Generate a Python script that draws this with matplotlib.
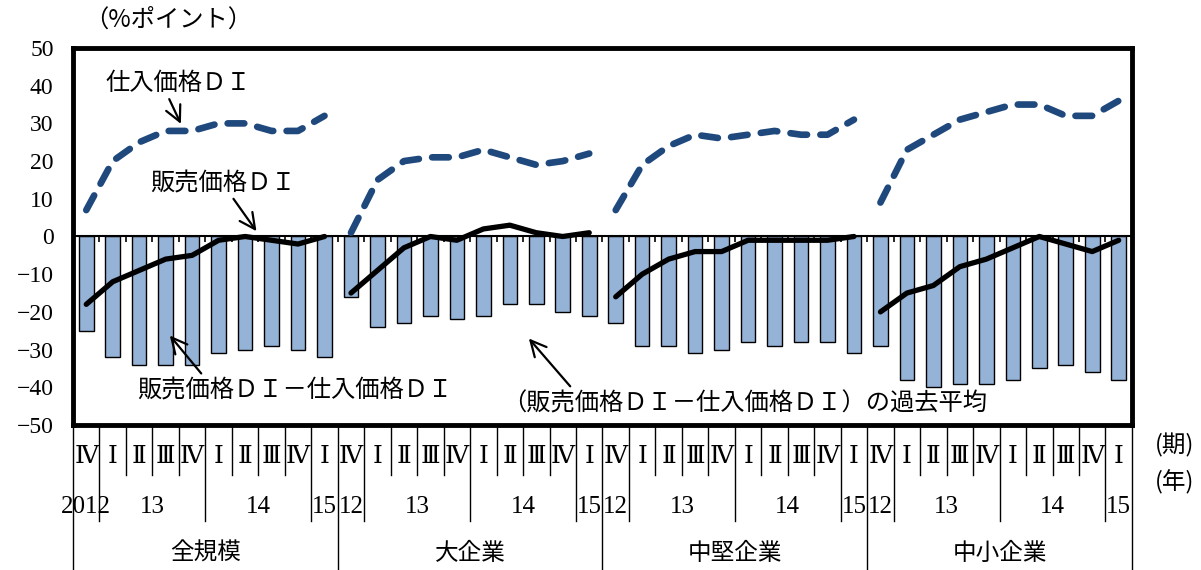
import matplotlib
matplotlib.use('Agg')
import matplotlib.pyplot as plt
from matplotlib.transforms import blended_transform_factory

plt.rcParams['font.family'] = ['Liberation Serif', 'DejaVu Serif', 'Noto Sans CJK JP']
JP = ['Noto Sans CJK JP', 'DejaVu Sans']

groups = ['全規模', '大企業', '中堅企業', '中小企業']
quarters = ['Ⅳ', 'Ⅰ', 'Ⅱ', 'Ⅲ', 'Ⅳ', 'Ⅰ', 'Ⅱ', 'Ⅲ', 'Ⅳ', 'Ⅰ']
year_labels = ['12', '13', '14', '15']
year_spans = [(0, 0), (1, 4), (5, 8), (9, 9)]

# 仕入価格DI (per group, 2012 IV - 2015 I)
purchase_di = [
    [7, 20, 25, 28, 28, 30, 30, 28, 28, 32],
    [1, 15, 20, 21, 21, 23, 21, 19, 20, 22],
    [7, 19, 24, 27, 26, 27, 28, 27, 27, 31],
    [9, 23, 27, 31, 33, 35, 35, 32, 32, 36],
]
# 販売価格DI
sales_di = [
    [-18, -12, -9, -6, -5, -1, 0, -1, -2, 0],
    [-15, -9, -3, 0, -1, 2, 3, 1, 0, 1],
    [-16, -10, -6, -4, -4, -1, -1, -1, -1, 0],
    [-20, -15, -13, -8, -6, -3, 0, -2, -4, -1],
]
# 販売価格DI - 仕入価格DI
spread_di = [
    [-25, -32, -34, -34, -34, -31, -30, -29, -30, -32],
    [-16, -24, -23, -21, -22, -21, -18, -18, -20, -21],
    [-23, -29, -29, -31, -30, -28, -29, -28, -28, -31],
    [-29, -38, -40, -39, -39, -38, -35, -34, -36, -38],
]
# 過去平均
spread_avg = [-33.5, -24.5, -30.5, -38.5]

n = len(quarters)

fig = plt.figure(figsize=(12.01, 5.70), dpi=100)
ax = fig.add_axes([0.0608, 0.2544, 0.8817, 0.6614])

for g in range(len(groups)):
    xs = [g * n + i for i in range(n)]
    ax.bar(xs, spread_di[g], width=0.55, color='#95B3D7', edgecolor='black',
           linewidth=1.0, zorder=2)
    ax.plot([xs[0], xs[-1]], [spread_avg[g]] * 2, color='#00B050', lw=3.6,
            linestyle=(0, (0, 2.5)), dash_capstyle='round', zorder=3)
    ax.plot(xs, purchase_di[g], color='#1F497D', lw=4.8, linestyle=(0, (2.5, 2.0)),
            dash_capstyle='round', solid_joinstyle='round', zorder=4)
    ax.plot(xs, sales_di[g], color='black', lw=3.8, solid_joinstyle='round',
            solid_capstyle='round', zorder=5)

# zero line with small ticks between quarters
ax.axhline(0, color='black', lw=1.5, zorder=3)
ax.vlines([k + 0.5 for k in range(len(groups) * n - 1)], -1.4, 0, color='black',
          lw=1.2, zorder=3)

ax.set_xlim(-0.5, len(groups) * n - 0.5)
ax.set_ylim(-50, 50)
ax.set_yticks(range(-50, 51, 10))
ax.set_yticklabels([f'{v}'.replace('-', '−') for v in range(-50, 51, 10)])
ax.tick_params(axis='y', length=0, pad=14, labelsize=17)
ax.set_xticks([])
for s in ax.spines.values():
    s.set_linewidth(3.5)

# category table under the axes
tr = blended_transform_factory(ax.transData, ax.transAxes)
q_bot, y_bot, g_bot = -0.133, -0.255, -0.39
for g in range(len(groups)):
    base = g * n
    for i in range(n):
        ax.text(base + i, -0.083, quarters[i], transform=tr, ha='center', va='center',
                fontsize=18, family=['DejaVu Serif', 'Noto Sans CJK JP'])
    for i in range(1, n):
        bottom = y_bot if i in (1, 5, 9) else q_bot
        ax.plot([base + i - 0.5] * 2, [0, bottom], transform=tr, color='black',
                lw=1.0, clip_on=False)
    for k, (a, b) in enumerate(year_spans):
        label = '2012' if (g == 0 and k == 0) else year_labels[k]
        ax.text(base + (a + b) / 2, -0.2175, label, transform=tr, ha='center',
                va='center', fontsize=18)
    ax.text(base + (n - 1) / 2, -0.34, groups[g], transform=tr, ha='center',
            va='center', fontsize=17, family=JP)
for g in range(len(groups) + 1):
    ax.plot([g * n - 0.5] * 2, [0, g_bot], transform=tr, color='black', lw=1.0,
            clip_on=False)

fig.text(0.978, 0.219, '(期)', ha='center', va='center', fontsize=17, family=JP)
fig.text(0.978, 0.154, '(年)', ha='center', va='center', fontsize=17, family=JP)
fig.text(0.14, 0.965, '（%ポイント）', ha='center', va='center', fontsize=17.5, family=JP)

# labels with arrows
arrow = dict(arrowstyle='->', lw=1.6, color='black', mutation_scale=28)
ax.text(3.47, 40.6, '仕入価格ＤＩ', ha='center', va='center', fontsize=17.5, family=JP)
ax.annotate('', xy=(3.62, 29.2), xytext=(3.09, 37.1), arrowprops=arrow, zorder=6)
ax.text(5.17, 14.1, '販売価格ＤＩ', ha='center', va='center', fontsize=17.5, family=JP)
ax.annotate('', xy=(6.49, 0.8), xytext=(5.5, 10.6), arrowprops=arrow, zorder=6)
ax.text(7.89, -40.8, '販売価格ＤＩ－仕入価格ＤＩ', ha='center', va='center',
        fontsize=17.5, family=JP)
ax.annotate('', xy=(3.09, -25.7), xytext=(4.41, -36.9), arrowprops=arrow, zorder=6)
ax.text(24.88, -44.3, '（販売価格ＤＩ－仕入価格ＤＩ）の過去平均', ha='center',
        va='center', fontsize=17.5, family=JP)
ax.annotate('', xy=(16.65, -26.5), xytext=(18.35, -40.3), arrowprops=arrow, zorder=6)

fig.savefig('out.png', dpi=100)
